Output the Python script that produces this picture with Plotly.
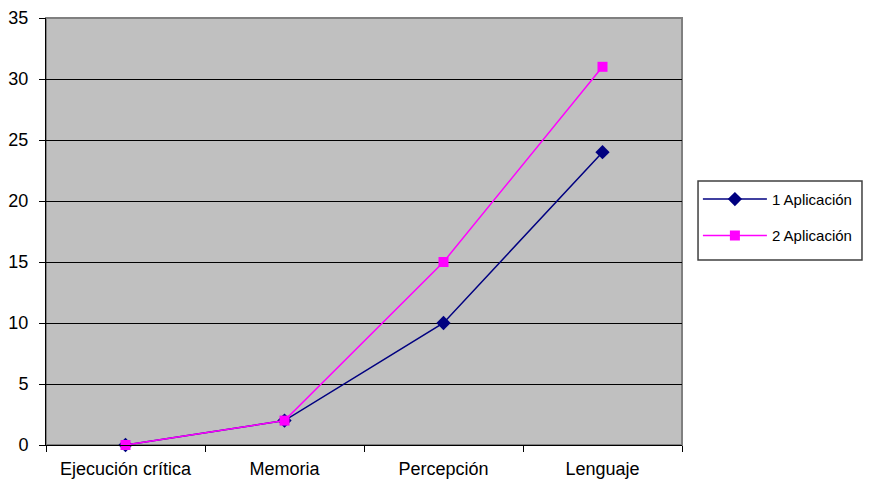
import plotly.graph_objects as go

categories = ["Ejecución crítica", "Memoria", "Percepción", "Lenguaje"]
aplicacion1 = [0, 2, 10, 24]
aplicacion2 = [0, 2, 15, 31]
y_ticks = [0, 5, 10, 15, 20, 25, 30, 35]

fig = go.Figure()
fig.add_trace(go.Scatter(
    x=categories, y=aplicacion1, name="1 Aplicación", mode="lines+markers",
    line=dict(color="#000080", width=1.5),
    marker=dict(symbol="diamond", size=11, color="#000080"),
    cliponaxis=False, legendgroup="a"))
fig.add_trace(go.Scatter(
    x=categories, y=aplicacion2, name="2 Aplicación", mode="lines+markers",
    line=dict(color="#FF00FF", width=1.5),
    marker=dict(symbol="square", size=10, color="#FF00FF"),
    cliponaxis=False, legendgroup="b"))

fig.update_layout(
    width=865, height=477,
    margin=dict(l=38, r=191, t=10, b=40),
    paper_bgcolor="white", plot_bgcolor="#C0C0C0",
    font=dict(family="Liberation Sans, Arial", size=18, color="black"),
    legend=dict(x=1.025, y=0.614, xanchor="left", yanchor="top",
                bgcolor="rgba(0,0,0,0)", borderwidth=0,
                font=dict(size=15), tracegroupgap=14, itemwidth=64),
    showlegend=True,
    shapes=[
        dict(type="rect", xref="paper", yref="paper", x0=0, x1=1, y0=0, y1=1,
             line=dict(color="#808080", width=2), layer="below"),
        dict(type="rect", xref="paper", yref="paper", x0=1.0252, x1=1.283,
             y0=0.4333, y1=0.6183, line=dict(color="#404040", width=1.5),
             fillcolor="white", layer="above"),
    ],
)
fig.update_xaxes(
    type="category", range=[-0.5, 3.5], showgrid=False, automargin=False,
    showline=True, linecolor="black", linewidth=1,
    ticks="outside", tickson="boundaries", ticklen=6, tickcolor="black",
    ticklabelstandoff=7, zeroline=False)
fig.update_yaxes(
    range=[0, 35], tickvals=y_ticks, showgrid=True, gridcolor="black", gridwidth=1,
    showline=True, linecolor="black", linewidth=1, automargin=False,
    ticks="outside", ticklen=6, tickcolor="black", ticklabelstandoff=7,
    zeroline=False)

fig.write_html("out.html")
